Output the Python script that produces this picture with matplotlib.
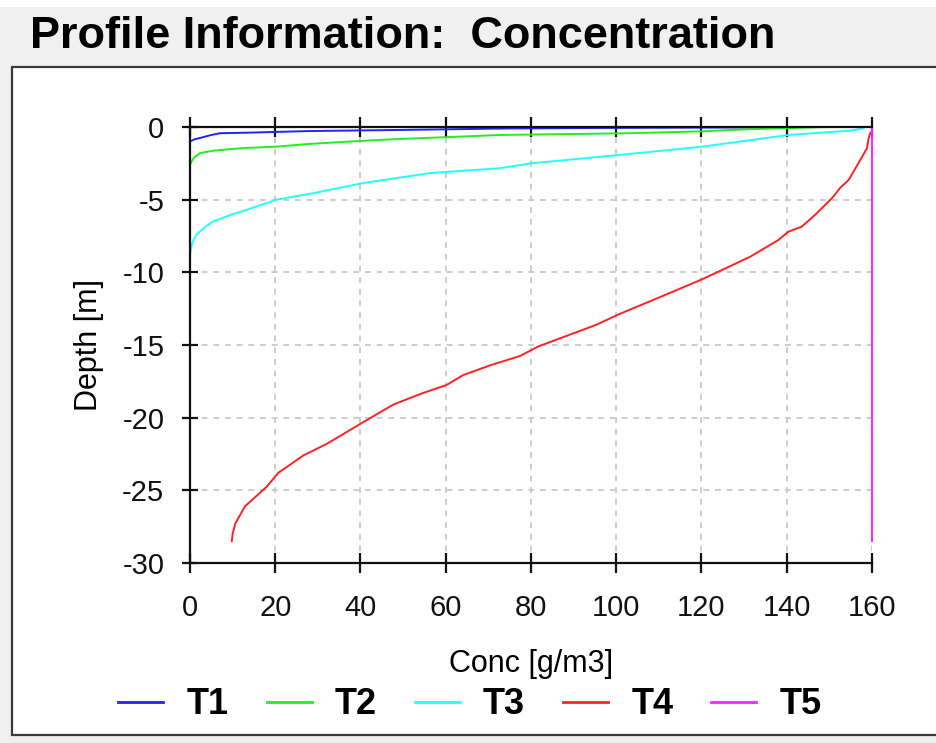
import matplotlib
matplotlib.use("Agg")
import matplotlib.pyplot as plt
from matplotlib.patches import Rectangle

# ---- concentration profiles (conc [g/m3], depth [m]) ----
t1_conc = [0, 1, 2.3, 5, 7, 15, 27.7, 50, 75, 100, 131, 140]
t1_depth = [-1.0, -0.85, -0.76, -0.55, -0.43, -0.38, -0.28, -0.2, -0.1, -0.06, -0.03, 0.0]

t2_conc = [0, 0.5, 1, 2.3, 5.4, 12.4, 20.4, 27.7, 37.5, 48.5, 60, 72.7, 80, 103, 120, 131.4, 150]
t2_depth = [-2.6, -2.3, -2.1, -1.8, -1.63, -1.45, -1.35, -1.17, -1.0, -0.83, -0.7, -0.55, -0.52,
            -0.43, -0.3, -0.15, 0.0]

t3_conc = [0, 0.5, 1.5, 3.5, 5.4, 9.4, 13.3, 20.3, 29, 40.6, 56.3, 72.7, 80, 100.5, 120, 140.4,
           154.8, 158]
t3_depth = [-8.8, -8.0, -7.4, -6.9, -6.5, -6.06, -5.7, -5.0, -4.55, -3.86, -3.17, -2.84, -2.5,
            -1.93, -1.36, -0.55, -0.25, -0.1]

t4_conc = [9.8, 10.0, 10.6, 12.9, 18.0, 20.7, 26.6, 32.1, 40.7, 47.7, 54.7, 60.2, 64.1, 70.4,
           77.4, 81.7, 95.4, 100.5, 110.3, 120.0, 131.4, 138.0, 140.4, 143.5, 146.6, 150.6,
           152.5, 154.5, 156.8, 158.8, 159.2, 159.6, 160.0]
t4_depth = [-28.5, -28.0, -27.3, -26.1, -24.75, -23.8, -22.6, -21.8, -20.3, -19.1, -18.3, -17.75,
            -17.07, -16.4, -15.76, -15.1, -13.6, -12.9, -11.7, -10.5, -8.93, -7.78, -7.2, -6.86,
            -6.06, -4.9, -4.2, -3.65, -2.5, -1.47, -0.78, -0.43, -0.3]

t5_conc = [160, 160]
t5_depth = [-28.5, 0.0]

series_names = ["T1", "T2", "T3", "T4", "T5"]
series_colors = ["#2222ff", "#22ee22", "#22ffff", "#ff2222", "#ff22ff"]

x_ticks = [0, 20, 40, 60, 80, 100, 120, 140, 160]
y_ticks = [0, -5, -10, -15, -20, -25, -30]

W, H = 937, 743
fig = plt.figure(figsize=(W / 100, H / 100), dpi=100)
fig.patch.set_facecolor("#f0f0f0")

# thin white strip at the very top and the white plot panel with its border
fig.patches.append(Rectangle((0, 1 - 7 / H), 1, 7 / H, transform=fig.transFigure,
                             facecolor="white", edgecolor="none", zorder=-2))
fig.patches.append(Rectangle((12 / W, 1 - 735 / H), 1.0, (735 - 67) / H,
                             transform=fig.transFigure, facecolor="white",
                             edgecolor="#3a3a3a", linewidth=1.6, zorder=-2))

fig.text(30 / W, 1 - 48 / H, "Profile Information:  Concentration",
         family="Liberation Sans", fontweight="bold", fontsize=32.5,
         ha="left", va="baseline")

ax = fig.add_axes([190 / W, 1 - 563 / H, 682 / W, 436 / H])
ax.set_zorder(2)
ax.set_facecolor("white")

profiles = [(t1_conc, t1_depth), (t2_conc, t2_depth), (t3_conc, t3_depth),
            (t4_conc, t4_depth), (t5_conc, t5_depth)]
for (c, d), name, col in zip(profiles, series_names, series_colors):
    ax.plot(c, d, color=col, lw=1.4, label=name, zorder=3, clip_on=False)

ax.set_xlim(0, 160)
ax.set_ylim(-30, 0)
ax.set_xticks(x_ticks)
ax.set_yticks(y_ticks)
ax.set_xticklabels([str(v) for v in x_ticks])
ax.set_yticklabels([str(v) for v in y_ticks])

ax.grid(True, color="#cccccc", linestyle=(0, (3, 3)), linewidth=1.4, zorder=1)

for side in ("left", "top", "bottom"):
    ax.spines[side].set_linewidth(1.6)
    ax.spines[side].set_color("#111111")
    ax.spines[side].set_zorder(4)
ax.spines["right"].set_visible(False)

ax.tick_params(axis="x", direction="inout", length=14, width=1.6, top=True,
               labeltop=False, pad=15, labelsize=21, colors="#111111")
ax.tick_params(axis="y", direction="inout", length=11, width=1.6, pad=13,
               labelsize=21, colors="#111111")
for lbl in ax.get_xticklabels() + ax.get_yticklabels():
    lbl.set_family("Liberation Sans")

ax.set_xlabel("Conc [g/m3]", family="Liberation Sans", fontsize=22, labelpad=20)
ax.set_ylabel("Depth [m]", family="Liberation Sans", fontsize=22, labelpad=13)

handles, labels = ax.get_legend_handles_labels()
leg = fig.legend(handles, labels, loc="center", ncol=5, frameon=False,
                 bbox_to_anchor=(470 / W, 1 - 705 / H),
                 prop={"family": "Liberation Sans", "weight": "bold", "size": 26},
                 handlelength=1.25, handletextpad=0.64, columnspacing=1.05)
for line in leg.get_lines():
    line.set_linewidth(2.0)

fig.savefig("out.png", dpi=100, facecolor=fig.get_facecolor())
